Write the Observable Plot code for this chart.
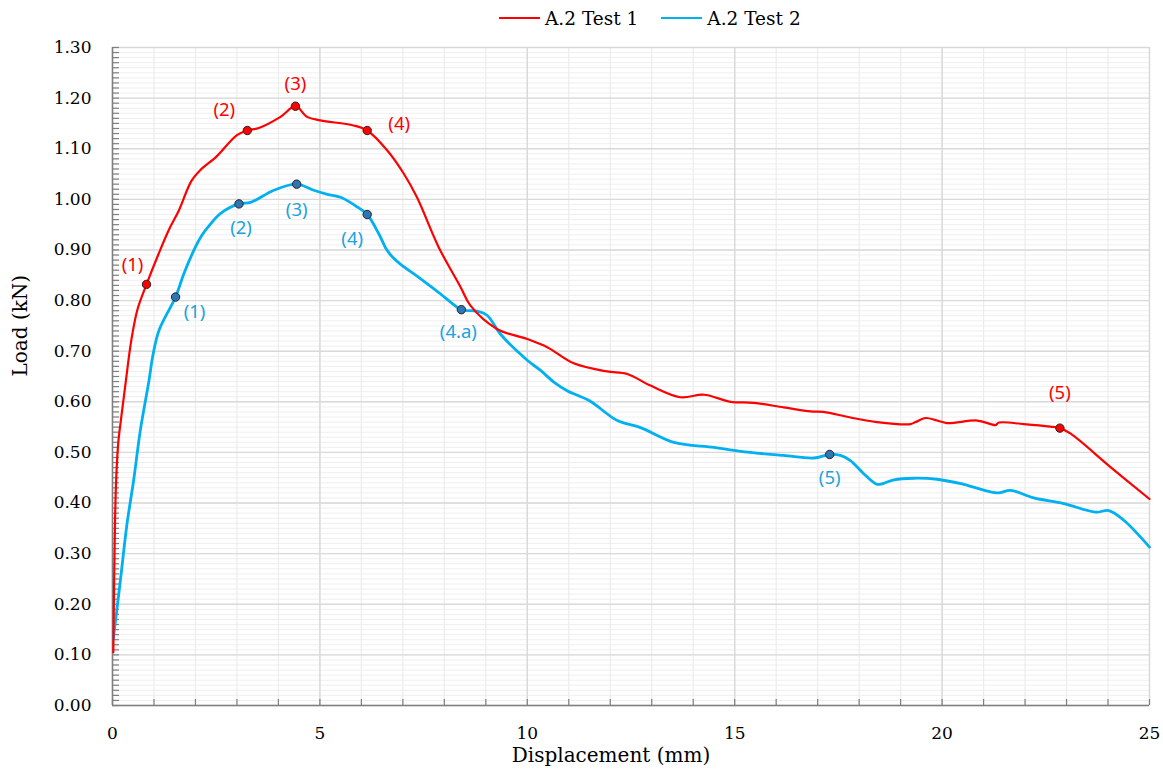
<!DOCTYPE html>
<html><head><meta charset="utf-8">
<script src="https://cdn.jsdelivr.net/npm/d3@7"></script>
<script src="https://cdn.jsdelivr.net/npm/@observablehq/plot@0.6"></script>
<style>
body{margin:0;background:#fff;}
#legend{height:36px;display:flex;align-items:center;padding-left:499px;font-family:"DejaVu Serif";font-size:18.5px;color:#000;box-sizing:border-box;}
.sw{display:inline-block;width:41px;height:2.5px;margin-right:5px;}
.it{display:flex;align-items:center;margin-right:23px;}
</style></head><body>
<div id="legend"></div>
<div id="chart"></div>
<script>
// Series: A.2 Test 1 (red)
const test1X = [0.02,0.04,0.06,0.09,0.14,0.22,0.32,0.45,0.6,0.82,1.1,1.36,1.6,1.9,2.12,2.5,3.0,3.25,3.53,4.05,4.41,4.69,5.01,5.81,6.14,6.62,7.02,7.34,7.86,8.39,8.63,9.27,10.0,10.48,11.12,11.92,12.41,12.97,13.69,14.26,14.9,15.46,16.18,16.83,17.14,17.79,18.43,19.24,19.36,19.6,19.88,20.12,20.85,21.17,21.29,21.37,21.97,22.61,22.84,23.1,24.06,25.0];
const test1Y = [0.105,0.25,0.36,0.45,0.52,0.575,0.64,0.72,0.782,0.832,0.89,0.94,0.978,1.036,1.058,1.084,1.127,1.136,1.141,1.163,1.184,1.163,1.156,1.146,1.136,1.097,1.051,1.004,0.906,0.827,0.790,0.744,0.724,0.708,0.676,0.660,0.655,0.632,0.609,0.614,0.600,0.598,0.589,0.581,0.580,0.569,0.560,0.556,0.560,0.568,0.563,0.558,0.563,0.556,0.554,0.559,0.556,0.551,0.548,0.537,0.471,0.408];
// Series: A.2 Test 2 (blue)
const test2X = [0.02,0.19,0.35,0.51,0.67,0.88,0.97,1.12,1.52,1.72,1.96,2.14,2.3,2.6,3.05,3.33,3.89,4.44,4.85,5.18,5.5,5.9,6.14,6.42,6.6,6.75,6.94,7.43,7.91,8.15,8.41,8.79,9.03,9.35,10.0,10.32,10.64,10.96,11.5,12.17,12.73,13.53,14.5,15.14,16.18,16.91,17.29,17.55,17.79,18.11,18.43,18.59,18.84,19.32,19.88,20.52,21.33,21.65,22.21,22.93,23.70,24.02,24.38,25.0];
const test2Y = [0.132,0.247,0.359,0.445,0.543,0.642,0.69,0.741,0.807,0.853,0.899,0.927,0.945,0.972,0.991,0.994,1.018,1.030,1.018,1.010,1.004,0.985,0.970,0.932,0.902,0.886,0.872,0.843,0.813,0.797,0.782,0.779,0.771,0.734,0.682,0.662,0.639,0.622,0.602,0.563,0.549,0.520,0.510,0.502,0.494,0.489,0.496,0.494,0.484,0.458,0.437,0.439,0.446,0.449,0.447,0.437,0.420,0.425,0.410,0.399,0.382,0.385,0.366,0.313];
// Annotated points
const test1PtX = [0.82,3.25,4.41,6.14,22.84];
const test1PtY = [0.832,1.136,1.184,1.136,0.548];
const test1PtLabel = ["(1)","(2)","(3)","(4)","(5)"];
const test2PtX = [1.52,3.05,4.44,6.14,8.41,17.29];
const test2PtY = [0.807,0.991,1.030,0.970,0.782,0.496];
const test2PtLabel = ["(1)","(2)","(3)","(4)","(4.a)","(5)"];
// Ticks
const xTickLabels = [0,5,10,15,20,25];
const yTickLabels = [0,0.1,0.2,0.3,0.4,0.5,0.6,0.7,0.8,0.9,1.0,1.1,1.2,1.3];
const xMinor = d3.range(0,26);
const yMinor = d3.range(0,131).map(i=>i/100);
const seriesNames = ["A.2 Test 1","A.2 Test 2"];
const seriesColors = ["#ff0000","#00b0f0"];

// legend
const lg = document.getElementById("legend");
seriesNames.forEach((n,i)=>{
  const it = document.createElement("div"); it.className="it";
  const sw = document.createElement("span"); sw.className="sw"; sw.style.background=seriesColors[i];
  const tx = document.createElement("span"); tx.textContent=n;
  it.appendChild(sw); it.appendChild(tx); lg.appendChild(it);
});

const t1 = test1X.map((x,i)=>({x, y:test1Y[i]}));
const t2 = test2X.map((x,i)=>({x, y:test2Y[i]}));
const idx1 = test1PtX.map((_,i)=>i);
const idx2 = test2PtX.map((_,i)=>i);
const off1 = [[-14,-19],[-23,-20],[0,-22],[32,-6],[0,-35]];
const off2 = [[19,15],[2,24],[0,26],[-15,25],[-3,22],[0,24]];
const W = 1163, H = 738, mL = 112, mR = 14, mT = 11, mB = 69;
const fw = W-mL-mR, fh = H-mT-mB;
const lblFont = {fontFamily:"Noto Sans", fontSize:18.5};

const chart = Plot.plot({
  width: W, height: H, marginLeft: mL, marginRight: mR, marginTop: mT, marginBottom: mB,
  style: {fontFamily: "DejaVu Serif", fontSize: "17px", color: "#000", background: "#fff", overflow: "visible"},
  x: {domain: [0,25]},
  y: {domain: [0,1.3]},
  marks: [
    Plot.gridY(yMinor, {stroke:"#efefef", strokeOpacity:1, strokeWidth:1}),
    Plot.gridX(xMinor, {stroke:"#ececec", strokeOpacity:1, strokeWidth:1.2}),
    Plot.gridY(yTickLabels, {stroke:"#d9d9d9", strokeOpacity:1, strokeWidth:1.4}),
    Plot.gridX(xTickLabels, {stroke:"#d9d9d9", strokeOpacity:1, strokeWidth:1.4}),
    Plot.tickY(yMinor, {y: d=>d, insetRight: fw-7, stroke:"#7f7f7f", strokeWidth:1.2}),
    Plot.tickX(xMinor, {x: d=>d, insetTop: fh-6, stroke:"#7f7f7f", strokeWidth:1.2}),
    Plot.ruleX([0], {stroke:"#7f7f7f", strokeWidth:1.5}),
    Plot.ruleY([0], {stroke:"#7f7f7f", strokeWidth:1.5}),
    Plot.axisY(yTickLabels, {tickSize:0, tickPadding:21, tickFormat: d3.format(".2f"), label:null}),
    Plot.axisX(xTickLabels, {tickSize:0, tickPadding:21, tickFormat: d=>String(d), label:null}),
    Plot.text(["Load (kN)"], {frameAnchor:"left", rotate:-90, dx:-92, fontSize:20, fontFamily:"DejaVu Serif", fill:"#000"}),
    Plot.text(["Displacement (mm)"], {frameAnchor:"bottom", dy:56, dx:-20, fontSize:20, fontFamily:"DejaVu Serif", fill:"#000"}),
    Plot.line(t2, {x:"x", y:"y", stroke:seriesColors[1], strokeWidth:2.8, curve:"catmull-rom"}),
    Plot.line(t1, {x:"x", y:"y", stroke:seriesColors[0], strokeWidth:2.2, curve:"catmull-rom"}),
    Plot.dot(idx1, {x:i=>test1PtX[i], y:i=>test1PtY[i], r:4.2, fill:"#ff0000", stroke:"#262626", strokeWidth:1}),
    Plot.dot(idx2, {x:i=>test2PtX[i], y:i=>test2PtY[i], r:4.2, fill:"#2e75b6", stroke:"#262626", strokeWidth:1}),
    ...off1.map(([dx,dy],i)=>Plot.text([i], {x:j=>test1PtX[j], y:j=>test1PtY[j], text:j=>test1PtLabel[j], dx, dy, fill:"#ff0000", ...lblFont})),
    ...off2.map(([dx,dy],i)=>Plot.text([i], {x:j=>test2PtX[j], y:j=>test2PtY[j], text:j=>test2PtLabel[j], dx, dy, fill:"#1aa3dd", ...lblFont}))
  ]
});
document.getElementById("chart").appendChild(chart);
</script>
</body></html>
